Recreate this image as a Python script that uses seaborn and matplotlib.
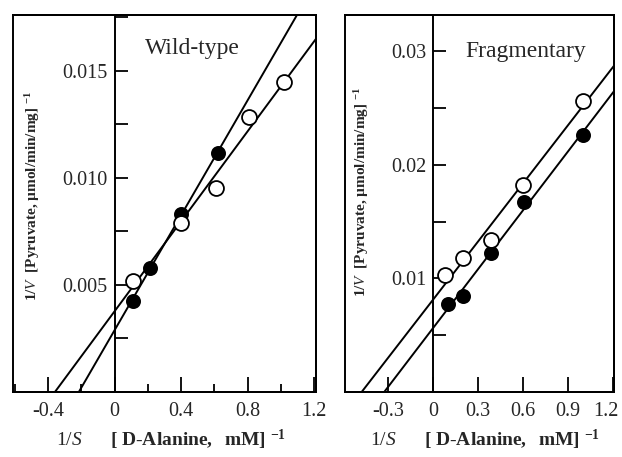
import matplotlib
matplotlib.use("Agg")
from matplotlib import pyplot as plt
from matplotlib.patches import Rectangle
from matplotlib.ticker import FixedLocator, MultipleLocator
from matplotlib.transforms import ScaledTranslation
import seaborn as sns

# Wild-type panel
wt_open_x = [0.11, 0.40, 0.61, 0.81, 1.02]
wt_open_y = [0.00516, 0.00787, 0.00953, 0.01283, 0.01446]
wt_filled_x = [0.11, 0.21, 0.40, 0.62]
wt_filled_y = [0.00426, 0.00581, 0.00829, 0.01117]

# Fragmentary panel
fr_open_x = [0.08, 0.20, 0.39, 0.60, 1.00]
fr_open_y = [0.0103, 0.01176, 0.01338, 0.01823, 0.02567]
fr_filled_x = [0.10, 0.20, 0.39, 0.61, 1.00]
fr_filled_y = [0.00779, 0.00844, 0.0122, 0.01676, 0.02265]

wt_yticks = [0.005, 0.010, 0.015]
wt_yticklabels = ["0.005", "0.010", "0.015"]
wt_xticks = [-0.4, 0, 0.4, 0.8, 1.2]
wt_xticklabels = ["-0.4", "0", "0.4", "0.8", "1.2"]

fr_yticks = [0.01, 0.02, 0.03]
fr_yticklabels = ["0.01", "0.02", "0.03"]
fr_xticks = [-0.3, 0, 0.3, 0.6, 0.9, 1.2]
fr_xticklabels = ["-0.3", "0", "0.3", "0.6", "0.9", "1.2"]

sns.set_theme(style="white")
plt.rcParams["font.family"] = ["Liberation Serif", "DejaVu Serif"]
plt.rcParams["mathtext.fontset"] = "custom"
plt.rcParams["mathtext.rm"] = "Liberation Serif"
plt.rcParams["mathtext.it"] = "Liberation Serif:italic"
plt.rcParams["mathtext.bf"] = "Liberation Serif:bold"

XLABEL = r"1/$\mathit{S}$      $\mathbf{[\ D}$-$\mathbf{Alanine,\ \ mM]\ ^{-1}}$"
YLABEL = r"1/$\mathit{V}$  [Pyruvate, µmol/min/mg]$\ ^{\mathbf{-1}}$"


def draw_panel(ax, open_x, open_y, filled_x, filled_y, xlim, ylim,
               xticks, xticklabels, xminor, yticks, yticklabels, yminor,
               title, title_pos, ylabel_pos):
    ax.set_xlim(xlim)
    ax.set_ylim(ylim)
    for xs, ys, face, size in [(filled_x, filled_y, "black", 90),
                               (open_x, open_y, "white", 115)]:
        sns.regplot(x=xs, y=ys, ax=ax, ci=None, truncate=False,
                    scatter_kws=dict(s=size, facecolor=face, edgecolor="black",
                                     linewidths=1.3, alpha=1, zorder=3),
                    line_kws=dict(color="black", lw=1.4, zorder=2))
    ax.set_xlim(xlim)
    ax.set_ylim(ylim)

    for side in ["top", "right", "bottom"]:
        ax.spines[side].set_visible(True)
        ax.spines[side].set_color("black")
        ax.spines[side].set_linewidth(1.4)
    ax.spines["left"].set_position(("data", 0))
    ax.spines["left"].set_color("black")
    ax.spines["left"].set_linewidth(1.4)
    ax.add_patch(Rectangle((0, 0), 1, 1, transform=ax.transAxes, fill=False,
                           lw=1.4, ec="black", clip_on=False, zorder=4))

    ax.xaxis.set_major_locator(FixedLocator(xticks))
    ax.set_xticklabels(xticklabels)
    ax.xaxis.set_minor_locator(MultipleLocator(xminor))
    ax.yaxis.set_major_locator(FixedLocator(yticks))
    ax.set_yticklabels(yticklabels)
    ax.yaxis.set_minor_locator(MultipleLocator(yminor))
    ax.tick_params(axis="x", which="major", direction="in", length=11, width=1.3,
                   labelsize=14.5, pad=7, bottom=True, top=False, color="black")
    ax.tick_params(axis="x", which="minor", direction="in", length=6, width=1.3,
                   bottom=True, top=False, color="black")
    ax.tick_params(axis="y", which="both", direction="in", length=9, width=1.3,
                   labelsize=14.5, pad=5, left=True, right=False, color="black")
    ax.grid(False)

    ax.text(title_pos[0], title_pos[1], title, transform=ax.transAxes,
            fontsize=17, ha="left", va="center")

    ax.set_xlabel(XLABEL, fontsize=14)
    ax.xaxis.set_label_coords(0.52, -0.095)
    ax.set_ylabel(YLABEL, fontsize=11, fontweight="bold")
    ax.yaxis.set_label_coords(ylabel_pos[0], ylabel_pos[1])


fig = plt.figure(figsize=(6.22, 4.57), dpi=100)
ax1 = fig.add_axes([13 / 622, 65 / 457, 303 / 622, 377 / 457])
ax2 = fig.add_axes([345 / 622, 65 / 457, 269 / 622, 377 / 457])

draw_panel(ax1, wt_open_x, wt_open_y, wt_filled_x, wt_filled_y,
           (-0.61, 1.21), (0, 0.0176),
           wt_xticks, wt_xticklabels, 0.2, wt_yticks, wt_yticklabels, 0.0025,
           "Wild-type", (0.435, 0.912), (0.095, 0.52))
draw_panel(ax2, fr_open_x, fr_open_y, fr_filled_x, fr_filled_y,
           (-0.59, 1.21), (0, 0.0332),
           fr_xticks, fr_xticklabels, 0.3, fr_yticks, fr_yticklabels, 0.005,
           "Fragmentary", (0.446, 0.902), (0.095, 0.53))

# keep the last tick label of the right panel inside the figure
last = ax2.get_xticklabels()[-1]
last.set_transform(last.get_transform()
                   + ScaledTranslation(-5 / 72, 0, fig.dpi_scale_trans))

fig.savefig("out.png", dpi=100, facecolor="white")
